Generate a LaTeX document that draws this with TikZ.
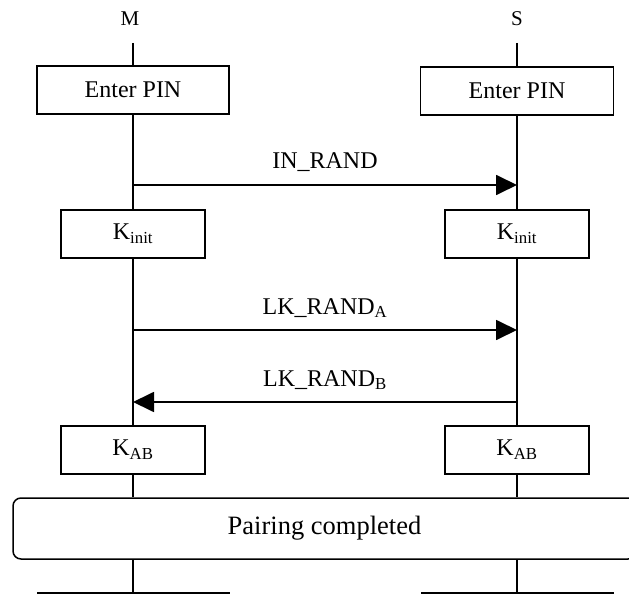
\documentclass[tikz,border=0pt]{standalone}
\usepackage{fontspec}
\setmainfont{Liberation Serif}
\usetikzlibrary{arrows.meta}
\tikzset{
  lifeline/.style={line width=1.4pt},
  boxnode/.style={draw, line width=1.5pt, minimum height=48pt, inner sep=0pt, font=\fontsize{24}{28}\selectfont},
  pinbox/.style={boxnode, minimum width=192pt},
  keybox/.style={boxnode, minimum width=144pt},
  msg/.style={line width=1.8pt, -{Triangle[length=21pt,width=20pt]}},
  msglabel/.style={anchor=base, inner sep=0pt, font=\fontsize{24}{28}\selectfont},
  entity/.style={anchor=base, inner sep=0pt, font=\fontsize{21}{25}\selectfont},
  pairbox/.style={draw, line width=1.5pt, rounded corners=8pt, minimum width=623pt, minimum height=61pt, inner sep=0pt, font=\fontsize{26.5}{30}\selectfont}
}
\begin{document}
\begin{tikzpicture}[x=1pt,y=-1pt]
\useasboundingbox (0,0) rectangle (629,596);
% entity names
\node[entity] (mlab) at (130,26) {M};
\node[entity] (slab) at (517,26) {S};
% lifeline ends
\coordinate (mtop) at (133,43);
\coordinate (stop) at (517,43);
\coordinate (mbot) at (133,593);
\coordinate (sbot) at (517,593);
\coordinate (mbl) at (37,593);
\coordinate (mbr) at (230,593);
\coordinate (sbl) at (421,593);
\coordinate (sbr) at (614,593);
% boxes
\node[pinbox] (pinM) at (133,90) {Enter PIN};
\node[pinbox, minimum width=193pt] (pinS) at (517,91) {Enter PIN};
\node[keybox] (kiM) at (133,234) {K\textsubscript{init}};
\node[keybox] (kiS) at (517,234) {K\textsubscript{init}};
\node[keybox] (kabM) at (133,450) {K\textsubscript{AB}};
\node[keybox] (kabS) at (517,450) {K\textsubscript{AB}};
\node[pairbox] (pair) at (324.5,528.5) {Pairing completed};
% lifelines
\draw[lifeline] (mtop) -- (pinM.north);
\draw[lifeline] (pinM.south) -- (kiM.north);
\draw[lifeline] (kiM.south) -- (kabM.north);
\draw[lifeline] (kabM.south) -- (kabM.south |- pair.north);
\draw[lifeline] (kabM.south |- pair.south) -- (mbot);
\draw[lifeline] (stop) -- (pinS.north);
\draw[lifeline] (pinS.south) -- (kiS.north);
\draw[lifeline] (kiS.south) -- (kabS.north);
\draw[lifeline] (kabS.south) -- (kabS.south |- pair.north);
\draw[lifeline] (kabS.south |- pair.south) -- (sbot);
\draw[line width=1.8pt] (mbl) -- (mbr);
\draw[line width=1.8pt] (sbl) -- (sbr);
% messages
\coordinate (a1s) at (133,185);
\coordinate (a1e) at (517,185);
\coordinate (a2s) at (133,330);
\coordinate (a2e) at (517,330);
\coordinate (a3s) at (517,402);
\coordinate (a3e) at (133,402);
\draw[msg] (a1s) -- (a1e);
\draw[msg] (a2s) -- (a2e);
\draw[msg] (a3s) -- (a3e);
\node[msglabel] (l1) at (325,169) {IN\_RAND};
\node[msglabel] (l2) at (325,314) {LK\_RAND\textsubscript{A}};
\node[msglabel] (l3) at (325,386) {LK\_RAND\textsubscript{B}};
\end{tikzpicture}
\end{document}
